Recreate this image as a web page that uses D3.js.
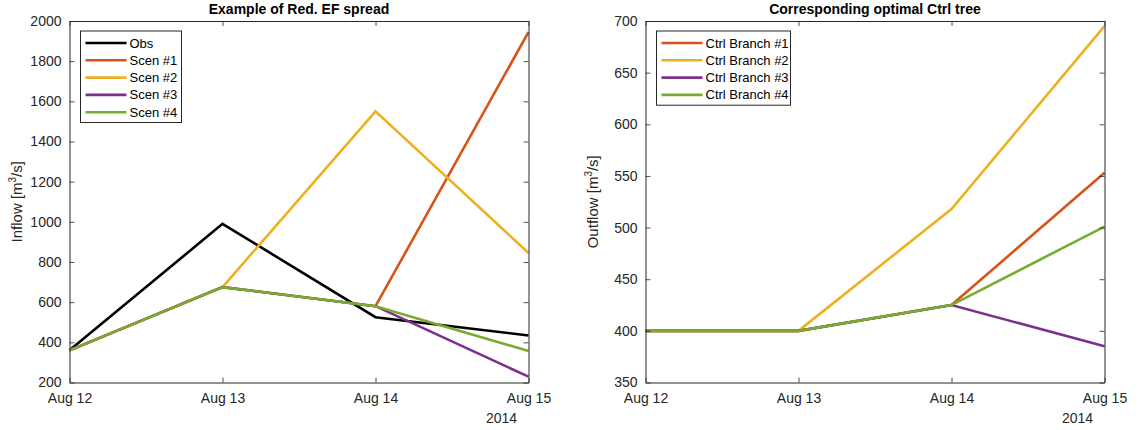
<!DOCTYPE html>
<html>
<head>
<meta charset="utf-8">
<script src="https://cdn.jsdelivr.net/npm/d3@7"></script>
<style>
body { margin: 0; background: #fff; }
svg text { font-family: "Liberation Sans", Arial, sans-serif; }
</style>
</head>
<body>
<div id="chart"></div>
<script>
// dates on the x axis
const dates = ["2014-08-12", "2014-08-13", "2014-08-14", "2014-08-15"];

// left panel: inflow scenarios
const inflowNames = ["Obs", "Scen #1", "Scen #2", "Scen #3", "Scen #4"];
const obs   = [360, 990, 525, 434];
const scen1 = [360, 675, 580, 1945];
const scen2 = [360, 675, 1550, 845];
const scen3 = [360, 675, 580, 229];
const scen4 = [360, 675, 580, 357];
const inflowTicks = [200, 400, 600, 800, 1000, 1200, 1400, 1600, 1800, 2000];

// right panel: control tree outflows
const ctrlNames = ["Ctrl Branch #1", "Ctrl Branch #2", "Ctrl Branch #3", "Ctrl Branch #4"];
const branch1 = [400, 400, 425, 553];
const branch2 = [400, 400, 518, 695];
const branch3 = [400, 400, 425, 385];
const branch4 = [400, 400, 425, 501];
const outflowTicks = [350, 400, 450, 500, 550, 600, 650, 700];

const matlabColors = ["#D95319", "#EDB120", "#7E2F8E", "#77AC30"];
const axisColor = "#262626";

const svg = d3.select("#chart").append("svg")
    .attr("width", 1142)
    .attr("height", 430);

const parseDay = d3.timeParse("%Y-%m-%d");
const days = dates.map(parseDay);

function drawPanel(opts) {
    const { left, right, top, bottom, yDomain, yTicks, series, names, colors, title, ylabel } = opts;

    const x = d3.scaleTime().domain(d3.extent(days)).range([left, right]);
    const y = d3.scaleLinear().domain(yDomain).range([bottom, top]);

    const g = svg.append("g");

    // lines
    const line = d3.line()
        .x((d, i) => x(days[i]))
        .y(d => y(d));

    series.forEach((s, i) => {
        g.append("path")
            .datum(s)
            .attr("d", line)
            .attr("fill", "none")
            .attr("stroke", colors[i])
            .attr("stroke-width", 2.6)
            .attr("stroke-linejoin", "miter");
    });

    // axes, matlab style: inward ticks, box around
    const fmt = d3.timeFormat("%b %d");
    const bottomAxis = g.append("g")
        .attr("transform", `translate(0,${bottom})`)
        .call(d3.axisBottom(x).tickValues(days).tickFormat(fmt).tickSizeInner(-5).tickSizeOuter(0).tickPadding(11));
    const topAxis = g.append("g")
        .attr("transform", `translate(0,${top})`)
        .call(d3.axisTop(x).tickValues(days).tickFormat("").tickSizeInner(-5).tickSizeOuter(0));
    const leftAxis = g.append("g")
        .attr("transform", `translate(${left},0)`)
        .call(d3.axisLeft(y).tickValues(yTicks).tickFormat(d3.format("d")).tickSizeInner(-5).tickSizeOuter(0).tickPadding(8));
    const rightAxis = g.append("g")
        .attr("transform", `translate(${right},0)`)
        .call(d3.axisRight(y).tickValues(yTicks).tickFormat("").tickSizeInner(-5).tickSizeOuter(0));

    [bottomAxis, topAxis, leftAxis, rightAxis].forEach(a => {
        a.select(".domain").attr("stroke", axisColor).attr("stroke-width", 1);
        a.selectAll(".tick line").attr("stroke", axisColor).attr("stroke-width", 0.8);
        a.selectAll(".tick text")
            .attr("fill", axisColor)
            .style("font-size", "14px");
    });

    // year under the last tick
    g.append("text")
        .attr("x", right - 27)
        .attr("y", bottom + 40)
        .attr("text-anchor", "middle")
        .attr("fill", axisColor)
        .style("font-size", "14px")
        .text("2014");

    // title
    g.append("text")
        .attr("x", (left + right) / 2)
        .attr("y", top - 7)
        .attr("text-anchor", "middle")
        .attr("fill", "#000")
        .style("font-size", "14px")
        .style("font-weight", "bold")
        .text(title);

    // y label with superscript
    const yl = g.append("text")
        .attr("transform", `translate(${left - 48},${(top + bottom) / 2}) rotate(-90)`)
        .attr("text-anchor", "middle")
        .attr("fill", axisColor)
        .style("font-size", "15px");
    yl.append("tspan").text(ylabel + " [m");
    yl.append("tspan").attr("dy", -6).style("font-size", "10px").text("3");
    yl.append("tspan").attr("dy", 6).text("/s]");

    // legend
    const lx = left + 11, ly = top + 10, rowH = 17.3;
    const legW = opts.legendWidth;
    const leg = g.append("g");
    leg.append("rect")
        .attr("x", lx)
        .attr("y", ly)
        .attr("width", legW)
        .attr("height", names.length * rowH + 5)
        .attr("fill", "#fff")
        .attr("stroke", axisColor)
        .attr("stroke-width", 1);
    names.forEach((n, i) => {
        const cy = ly + 12 + i * rowH;
        leg.append("line")
            .attr("x1", lx + 5).attr("x2", lx + 46)
            .attr("y1", cy).attr("y2", cy)
            .attr("stroke", colors[i])
            .attr("stroke-width", 2.6);
        leg.append("text")
            .attr("x", lx + 49)
            .attr("y", cy + 4.5)
            .attr("fill", "#000")
            .style("font-size", "13px")
            .text(n);
    });
}

drawPanel({
    left: 69.5, right: 528.5, top: 21, bottom: 382.5,
    yDomain: [200, 2000], yTicks: inflowTicks,
    series: [obs, scen1, scen2, scen3, scen4],
    names: inflowNames,
    colors: ["#000000"].concat(matlabColors),
    title: "Example of Red. EF spread",
    ylabel: "Inflow",
    legendWidth: 101
});

drawPanel({
    left: 645.5, right: 1104.5, top: 21, bottom: 382.5,
    yDomain: [350, 700], yTicks: outflowTicks,
    series: [branch1, branch2, branch3, branch4],
    names: ctrlNames,
    colors: matlabColors,
    title: "Corresponding optimal Ctrl tree",
    ylabel: "Outflow",
    legendWidth: 134
});
</script>
</body>
</html>
